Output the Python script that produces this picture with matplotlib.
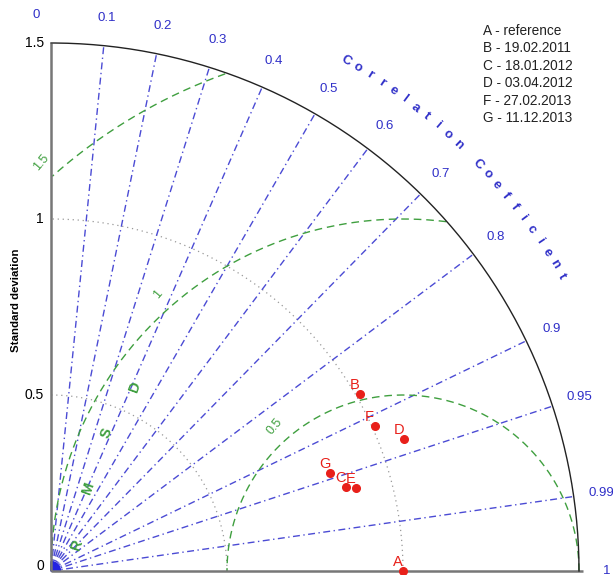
import numpy as np
import matplotlib
matplotlib.use("Agg")
import matplotlib.pyplot as plt

plt.rcParams['font.family'] = ['Liberation Sans', 'DejaVu Sans']

# correlation ticks (blue dash-dot rays)
corr_ticks = [0.1, 0.2, 0.3, 0.4, 0.5, 0.6, 0.7, 0.8, 0.9, 0.95, 0.99]
corr_labels = ['0', '0.1', '0.2', '0.3', '0.4', '0.5', '0.6', '0.7', '0.8', '0.9', '0.95', '0.99', '1']
corr_label_vals = [0.0, 0.1, 0.2, 0.3, 0.4, 0.5, 0.6, 0.7, 0.8, 0.9, 0.95, 0.99, 1.0]
# standard deviation axis
std_max = 1.5
std_ticks = [0, 0.5, 1, 1.5]
std_tick_labels = ['0', '0.5', '1', '1.5']
std_arcs = [0.5, 1.0]
# centred RMS difference arcs
rms_levels = [0.5, 1.0, 1.5]
rms_labels = ['0.5', '1', '1.5']

# models
names = ['A', 'B', 'C', 'D', 'E', 'F', 'G']
stds = [1.0, 1.012, 0.871, 1.071, 0.898, 1.008, 0.840]
corrs = [1.0, 0.868, 0.962, 0.937, 0.965, 0.913, 0.944]
ref_std = 1.0

legend_lines = ['A - reference', 'B - 19.02.2011', 'C - 18.01.2012',
                'D - 03.04.2012', 'F - 27.02.2013', 'G - 11.12.2013']

blue = '#4b4bd4'
blue_txt = '#2f2fc8'
green = '#3f9f3f'

fig = plt.figure(figsize=(6.13, 5.75), dpi=100)
ax = fig.add_axes([0, 0, 1, 1])
s = 352.0
ax.set_xlim(-51 / s, (613 - 51) / s)
ax.set_ylim(-4 / s, 571 / s)
ax.axis('off')

# dotted std arcs
th = np.linspace(0, np.pi / 2, 200)
for r in std_arcs:
    ax.plot(r * np.cos(th), r * np.sin(th), color='#999999', lw=0.9,
            linestyle=(0, (1, 3)), zorder=1)

# correlation rays
for c in corr_ticks:
    a = np.arccos(c)
    ax.plot([0, std_max * np.cos(a)], [0, std_max * np.sin(a)], color=blue,
            lw=1.0, dashes=(5, 2.5, 1, 2.5), zorder=2)

# blob at the origin where the rays meet
ax.add_patch(matplotlib.patches.Wedge((0, 0), 0.027, 0, 90, color='#2323e0', zorder=3))

# rms arcs around the reference, clipped to the outer std circle
tt = np.linspace(0, np.pi, 600)
lab_ang = np.deg2rad(131.5)
for r, lab in zip(rms_levels, rms_labels):
    x = ref_std + r * np.cos(tt)
    y = r * np.sin(tt)
    m = (x ** 2 + y ** 2 <= std_max ** 2 + 1e-9) & (x >= 0)
    ax.plot(np.where(m, x, np.nan), np.where(m, y, np.nan), color=green,
            lw=1.0, dashes=(5.5, 3.5), zorder=2)
    ax.text(ref_std + (r + 0.05) * np.cos(lab_ang), (r + 0.05) * np.sin(lab_ang), lab,
            color=green, fontsize=9, rotation=50, ha='center', va='center')

# RMSD letters
for ch, (lx, ly) in zip('RMSD', [(0.074, 0.074), (0.105, 0.236), (0.159, 0.392), (0.239, 0.523)]):
    ax.text(lx, ly, ch, color=green, fontsize=10.5, fontweight='bold', rotation=70,
            ha='center', va='center')

# axes frame
ax.plot([0, 0], [0, std_max], color='#777777', lw=1.8, zorder=4, solid_capstyle='butt')
ax.plot([0, std_max + 0.01], [0, 0], color='#777777', lw=1.8, zorder=4, solid_capstyle='butt')
ax.plot(std_max * np.cos(th), std_max * np.sin(th), color='#222222', lw=1.0, zorder=4)

for v, lab in zip(std_ticks, std_tick_labels):
    ax.text(-0.02, v + (0.015 if v == 0 else 0), lab, ha='right', va='center', fontsize=10)
ax.text(-0.1, 0.77, 'Standard deviation', rotation=90, ha='center', va='center',
        fontsize=8.2, fontweight='bold')

# correlation tick labels
for c, lab in zip(corr_label_vals, corr_labels):
    a = np.arccos(c)
    if c == 0:
        a = np.deg2rad(91.5)
    ax.text(1.58 * np.cos(a), 1.58 * np.sin(a), lab, color=blue_txt, fontsize=9.5,
            ha='center', va='center')

# curved title
title = 'Correlation Coefficient'
for i, ch in enumerate(title):
    a = np.deg2rad(60 - i * 30 / (len(title) - 1))
    ax.text(1.675 * np.cos(a), 1.675 * np.sin(a), ch, color=blue_txt, fontsize=9.5,
            fontweight='bold', rotation=np.rad2deg(a) - 90, ha='center', va='center')

# points
for n, sd, c in zip(names, stds, corrs):
    a = np.arccos(c)
    x, y = sd * np.cos(a), sd * np.sin(a)
    ax.plot(x, y, 'o', color='#e8201a', ms=5.5, zorder=6, clip_on=False)
    ax.annotate(n, (x, y), xytext=(-3.8, 6.5), textcoords='offset points',
                color='#e8201a', fontsize=10.5, ha='center', va='center', zorder=6)

# legend text
for i, t in enumerate(legend_lines):
    fig.text(483 / 613, 1 - (31 + i * 17.4) / 575, t, fontsize=9.8, color='#222222',
             ha='left', va='center')

fig.savefig('out.png', dpi=100)
